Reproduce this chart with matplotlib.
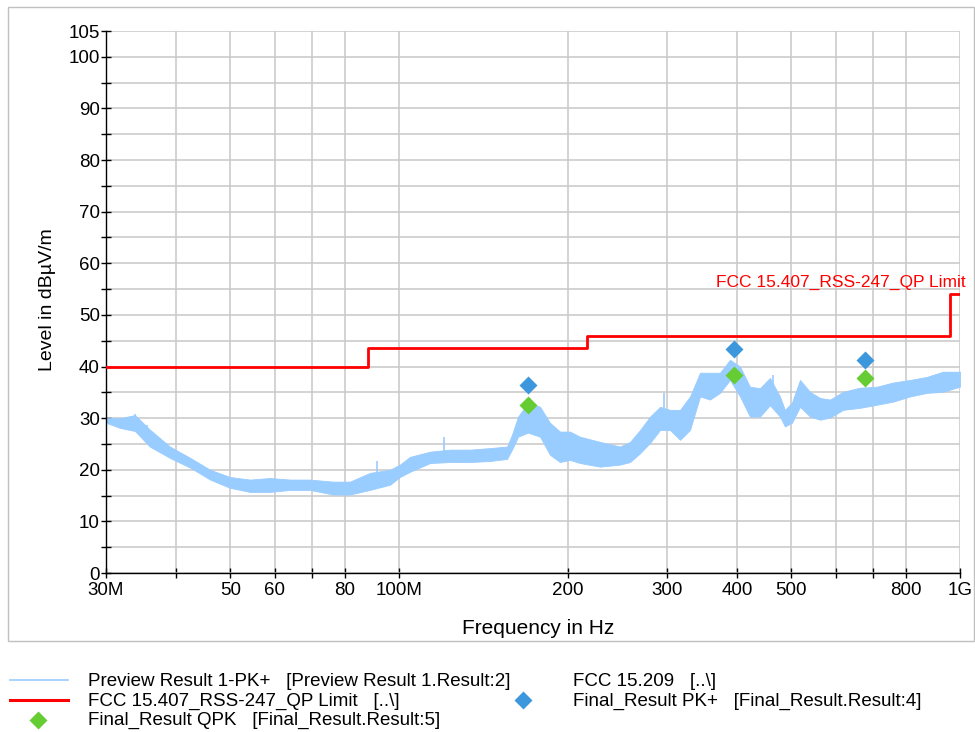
import numpy as np
import matplotlib
matplotlib.use("Agg")
import matplotlib.pyplot as plt
from matplotlib.lines import Line2D
from matplotlib.patches import Rectangle
from matplotlib.ticker import FixedLocator, NullLocator

plt.rcParams["font.family"] = ["Liberation Sans", "DejaVu Sans"]

# Preview trace envelope (MHz, dBuV/m)
trace_freq = [30, 31.8, 33.8, 35.9, 39.0, 42.4, 46.0, 49.9, 54.2, 58.8, 63.9, 69.3,
              76.2, 81.7, 88.7, 96.3, 100.3, 104.5, 113.5, 123.2, 133.8, 145.2, 155.7,
              158.9, 162.9, 169.7, 178.3, 185.7, 193.5, 201.6, 210.1, 228.1, 247.6,
              258.0, 268.8, 280.1, 291.8, 304.0, 316.8, 330.0, 343.9, 358.2, 373.2,
              388.9, 405.2, 422.1, 439.8, 458.2, 477.4, 487.3, 501.5, 518.4, 540.1,
              562.9, 586.4, 618.6, 663.3, 711.3, 759.6, 814.5, 873.3, 932.7, 1000]
trace_high = [30.1, 30.0, 30.6, 27.8, 24.5, 22.3, 20.0, 18.6, 18.1, 18.4, 18.1, 18.1,
              17.7, 17.7, 19.4, 20.0, 21.0, 22.5, 23.5, 23.9, 23.9, 24.2, 24.5,
              26.8, 30.3, 33.0, 32.2, 29.1, 27.4, 27.4, 26.4, 25.4, 24.5,
              25.4, 27.7, 30.3, 32.2, 31.6, 31.6, 34.2, 38.8, 38.8, 38.8,
              41.3, 40.0, 36.1, 35.8, 37.8, 34.2, 31.6, 33.0, 37.4, 35.1,
              33.9, 33.6, 35.1, 35.9, 36.1, 36.9, 37.4, 38.0, 39.0, 39.0]
trace_low = [29.1, 28.1, 27.5, 24.5, 22.3, 20.4, 18.1, 16.5, 15.7, 15.7, 16.1, 16.1,
             15.2, 15.2, 16.1, 17.1, 18.6, 19.6, 21.3, 21.5, 21.5, 21.7, 22.1,
             23.9, 26.4, 27.2, 26.4, 22.9, 21.5, 21.9, 21.3, 20.6, 21.0,
             21.5, 23.2, 25.2, 27.7, 27.7, 25.8, 27.7, 34.2, 33.6, 34.9,
             37.4, 34.2, 30.3, 30.3, 32.5, 30.3, 28.4, 29.1, 32.2, 30.3,
             29.7, 30.1, 31.6, 32.0, 32.6, 33.2, 34.2, 34.9, 35.1, 36.1]

# isolated spikes above the envelope
spike_freq = [33.8, 35.5, 91.3, 120.2, 171.0, 296.6, 464.0]
spike_top = [30.8, 28.7, 21.7, 26.4, 33.9, 34.9, 38.3]

# FCC 15.209 / RSS-247 QP limit
limit_freq = [30, 88, 216, 960, 1000]
limit_level = [40, 43.5, 46, 54, 54]

# Final results
final_freq = [169.9, 395.0, 677.0]
final_pk = [36.4, 43.3, 41.2]
final_qpk = [32.5, 38.3, 37.7]

xtick_vals = [30, 40, 50, 60, 70, 80, 100, 200, 300, 400, 500, 600, 700, 800, 1000]
xtick_labels = ["30M", "", "50", "60", "", "80", "100M", "200", "300", "400", "500",
                "", "", "800", "1G"]
ytick_vals = [0, 10, 20, 30, 40, 50, 60, 70, 80, 90, 100, 105]

TRACE_C = "#99ccff"
LIMIT_C = "#ff0000"
PK_C = "#3d97dc"
QPK_C = "#66cc33"

W, H = 975, 732
fig = plt.figure(figsize=(W / 100, H / 100), dpi=100)
ax = fig.add_axes([106 / W, 1 - 573 / H, 854 / W, 542 / H])

# outer frame
fig.add_artist(Rectangle((8 / W, 1 - 641 / H), 966 / W, 634 / H, transform=fig.transFigure,
                         fill=False, edgecolor="#c0c0c0", lw=1))

ax.fill_between(trace_freq, trace_low, trace_high, color=TRACE_C, lw=0.6, zorder=2)
ax.vlines(spike_freq, [t - 3 for t in spike_top], spike_top, color=TRACE_C, lw=1.2, zorder=2)
ax.step(limit_freq, limit_level, where="post", color=LIMIT_C, lw=2, zorder=3)
ax.plot(final_freq, final_pk, "D", color=PK_C, ms=9, mec="none", zorder=4)
ax.plot(final_freq, final_qpk, "D", color=QPK_C, ms=9, mec="none", zorder=4)

ax.annotate("FCC 15.407_RSS-247_QP Limit", xy=(1000, 54), xytext=(4, 3),
            textcoords="offset points", ha="right", va="bottom", color=LIMIT_C,
            fontsize=12.5, annotation_clip=False)

ax.set_xscale("log")
ax.set_xlim(30, 1000)
ax.set_ylim(0, 105)
ax.xaxis.set_major_locator(FixedLocator(xtick_vals))
ax.xaxis.set_minor_locator(NullLocator())
ax.set_xticklabels(xtick_labels)
ax.yaxis.set_major_locator(FixedLocator(ytick_vals))
ax.yaxis.set_minor_locator(FixedLocator(np.arange(5, 100, 10)))
ax.tick_params(which="both", direction="inout", length=7, width=1, labelsize=13.5, pad=1)
ax.tick_params(axis="x", pad=3)

ax.grid(True, which="both", color="#c8c8c8", lw=1.1, zorder=0)
ax.set_axisbelow(True)
for s in ["top", "right"]:
    ax.spines[s].set_visible(False)
for s in ["left", "bottom"]:
    ax.spines[s].set_linewidth(1)

fig.text(47 / W, 1 - 300 / H, "Level in dBµV/m", rotation=90, ha="center", va="center",
         fontsize=14)
fig.text(538 / W, 1 - 629 / H, "Frequency in Hz", ha="center", va="center", fontsize=15)

# legend, drawn by hand to match the layout
fs = 13.5
fig.add_artist(Line2D([10 / W, 68 / W], [1 - 680 / H] * 2, color=TRACE_C, lw=1.2,
                      transform=fig.transFigure))
fig.add_artist(Line2D([10 / W, 68 / W], [1 - 700 / H] * 2, color=LIMIT_C, lw=2.2,
                      transform=fig.transFigure))
fig.add_artist(Line2D([38 / W], [1 - 720 / H], marker="D", ms=9, color=QPK_C, mec="none",
                      transform=fig.transFigure))
fig.add_artist(Line2D([523 / W], [1 - 700 / H], marker="D", ms=9, color=PK_C, mec="none",
                      transform=fig.transFigure))
legend_rows = [
    (88, 682, "Preview Result 1-PK+   [Preview Result 1.Result:2]"),
    (88, 701, "FCC 15.407_RSS-247_QP Limit   [..\\]"),
    (88, 720, "Final_Result QPK   [Final_Result.Result:5]"),
    (573, 682, "FCC 15.209   [..\\]"),
    (573, 701, "Final_Result PK+   [Final_Result.Result:4]"),
]
for x, y, txt in legend_rows:
    fig.text(x / W, 1 - y / H, txt, ha="left", va="center", fontsize=fs)

fig.savefig("out.png", dpi=100)
